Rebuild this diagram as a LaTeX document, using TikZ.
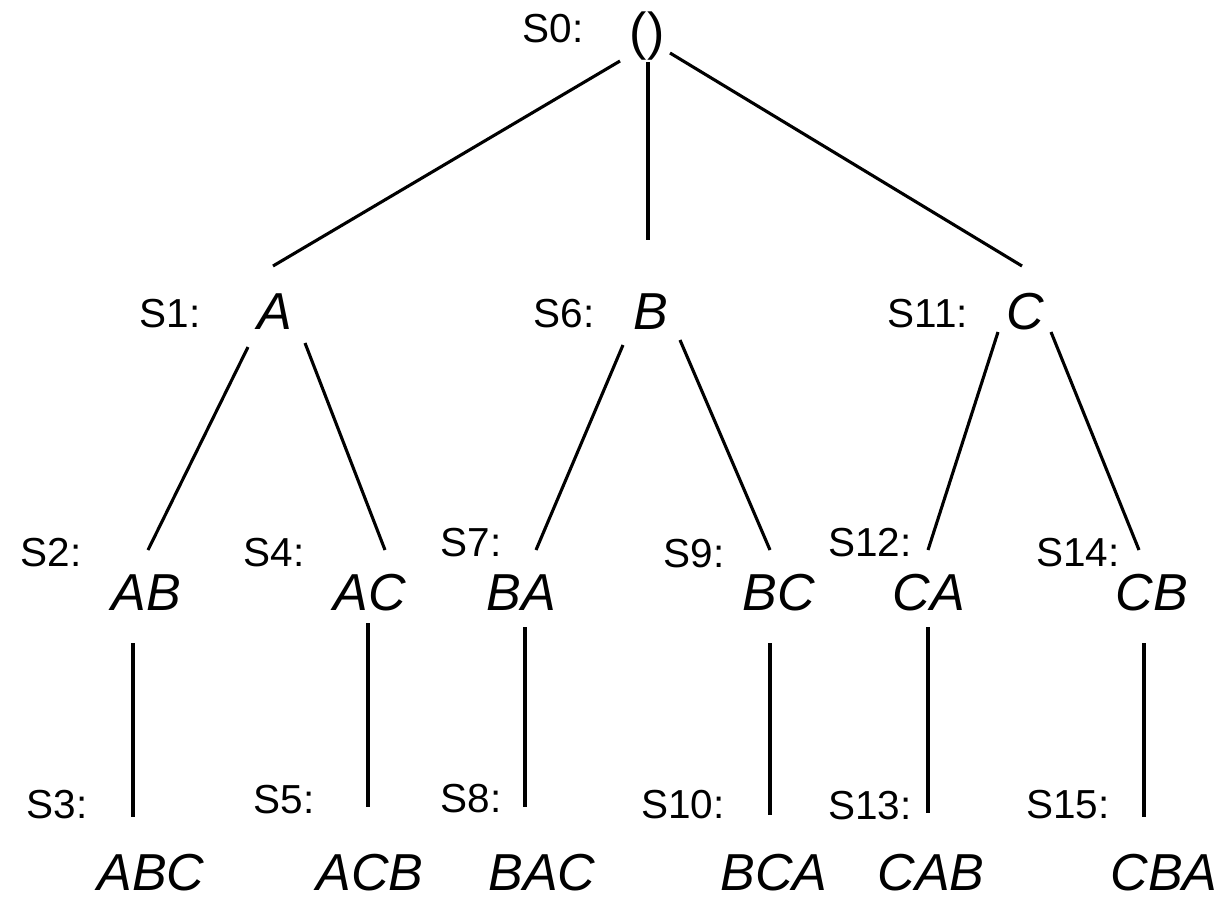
\documentclass[tikz,border=0pt]{standalone}
\usepackage{fontspec}
\setmainfont{Liberation Sans}
\begin{document}
\begin{tikzpicture}[x=1pt,y=-1pt]
    \tikzset{
        lbl/.style={inner sep=0pt,font=\fontsize{40.5}{48}\selectfont},
        st/.style={inner sep=0pt,font=\fontsize{52}{62}\selectfont\itshape},
        edge/.style={line width=3.1pt}}
    \useasboundingbox (0,0) rectangle (1220,898);
    % states
    \node[st,font=\fontsize{52}{62}\selectfont] (s0) at (647,36) {()};
    \node[st] (s1) at (275,312) {A};
    \node[st] (s6) at (651,312) {B};
    \node[st] (s11) at (1025,312) {C};
    \node[st] (s2) at (146,593) {AB};
    \node[st] (s4) at (370,593) {AC};
    \node[st] (s7) at (521,593) {BA};
    \node[st] (s9) at (779,593) {BC};
    \node[st] (s12) at (929,593) {CA};
    \node[st] (s14) at (1152,593) {CB};
    \node[st] (s3) at (151,873) {ABC};
    \node[st] (s5) at (370,873) {ACB};
    \node[st] (s8) at (542,873) {BAC};
    \node[st] (s10) at (774,873) {BCA};
    \node[st] (s13) at (931,873) {CAB};
    \node[st] (s15) at (1164,873) {CBA};
    % labels
    \node[lbl] (l0) at (553,29) {S0:};
    \node[lbl] (l1) at (170,314) {S1:};
    \node[lbl] (l6) at (564,314) {S6:};
    \node[lbl] (l11) at (928,314) {S11:};
    \node[lbl] (l2) at (51,553) {S2:};
    \node[lbl] (l4) at (274,553) {S4:};
    \node[lbl] (l7) at (471,543) {S7:};
    \node[lbl] (l9) at (694,554) {S9:};
    \node[lbl] (l12) at (870,543) {S12:};
    \node[lbl] (l14) at (1078,553) {S14:};
    \node[lbl] (l3) at (57,805) {S3:};
    \node[lbl] (l5) at (284,800) {S5:};
    \node[lbl] (l8) at (471,799) {S8:};
    \node[lbl] (l10) at (683,805) {S10:};
    \node[lbl] (l13) at (870,806) {S13:};
    \node[lbl] (l15) at (1068,805) {S15:};
    % edges
    \foreach \f/\t/\ax/\ay/\bx/\by in {
        s0/s1/-27/25/-2/-46, s0/s6/1/26/-3/-72, s0/s11/23/17/-3/-46,
        s1/s2/-27/35/2/-43, s1/s4/30/31/15/-43,
        s6/s7/-28/33/15/-43, s6/s9/29/28/-9/-43,
        s11/s12/-27/20/-1/-43, s11/s14/26/20/-13/-43,
        s2/s3/-13/50/-18/-56, s4/s5/-2/30/-2/-66, s7/s8/4/34/-17/-66,
        s9/s10/-9/50/-4/-58, s12/s13/-1/34/-3/-60, s14/s15/-8/50/-20/-56}
        \draw[edge] ([shift={(\ax,\ay)}]\f.center) -- ([shift={(\bx,\by)}]\t.center);
\end{tikzpicture}
\end{document}
